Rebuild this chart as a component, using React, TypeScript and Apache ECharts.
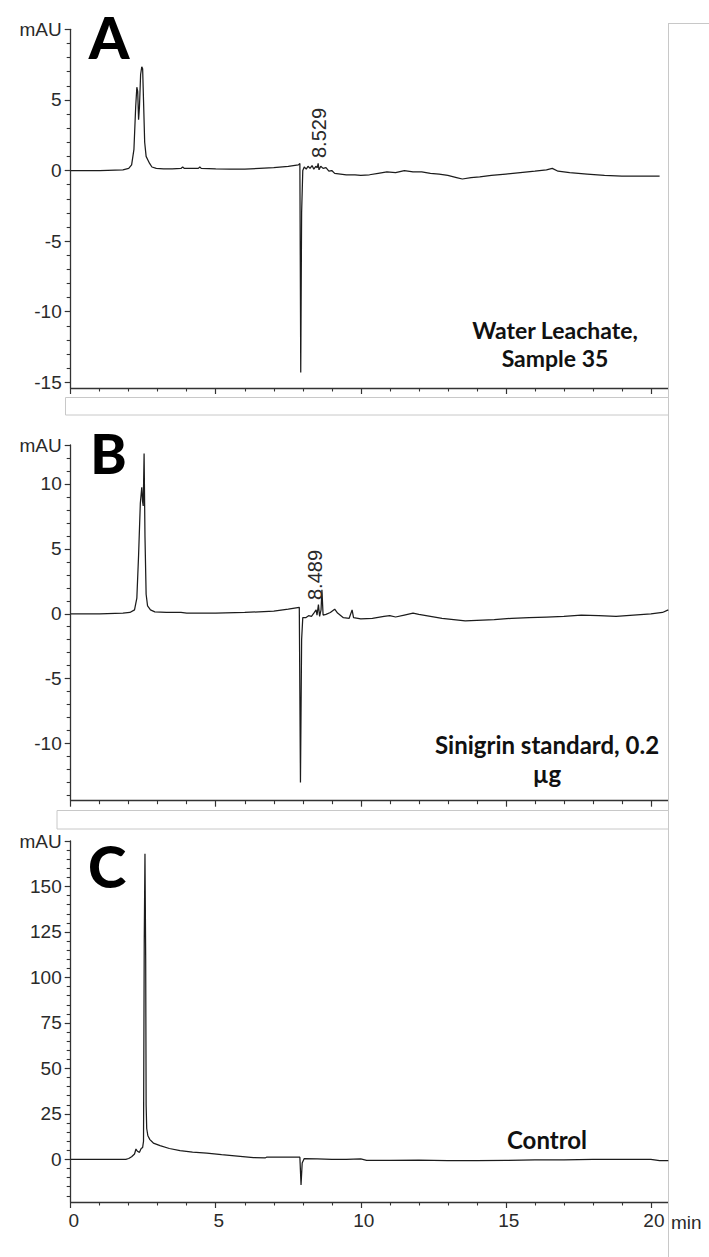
import React, { useEffect, useRef } from "react";
import * as echarts from "echarts";

// ---------- Data (retention time in min, signal in mAU) ----------
const timeA = [0, 1.0, 1.8, 2.0, 2.1, 2.18, 2.24, 2.28, 2.31, 2.34, 2.37, 2.41, 2.45, 2.48, 2.51, 2.55, 2.6, 2.66, 2.72, 2.8, 2.95, 3.2, 3.5, 3.8, 3.86, 3.92, 4.2, 4.4, 4.45, 4.5, 5.0, 5.5, 6.0, 6.5, 7.0, 7.5, 7.85, 7.9, 7.93, 7.96, 8.0, 8.05, 8.12, 8.18, 8.25, 8.32, 8.38, 8.45, 8.5, 8.53, 8.56, 8.62, 8.7, 8.8, 8.9, 9.0, 9.1, 9.3, 9.5, 9.8, 10.0, 10.3, 10.6, 10.9, 11.2, 11.5, 11.8, 12.1, 12.4, 12.7, 13.0, 13.3, 13.5, 13.8, 14.1, 14.5, 15.0, 15.5, 16.0, 16.4, 16.6, 16.8, 17.2, 17.8, 18.4, 19.0, 19.6, 20.3];
const signalA = [0.0, 0.0, 0.05, 0.15, 0.4, 1.5, 4.5, 5.9, 5.6, 3.6, 4.5, 6.8, 7.35, 7.2, 5.0, 2.0, 1.0, 0.75, 0.5, 0.25, 0.15, 0.12, 0.12, 0.15, 0.25, 0.15, 0.15, 0.15, 0.25, 0.15, 0.12, 0.1, 0.1, 0.15, 0.2, 0.3, 0.4, 0.5, -14.3, -3.0, 0.0, 0.25, 0.1, 0.3, 0.15, 0.35, 0.1, 0.3, 0.2, 0.5, 0.05, 0.3, 0.15, 0.2, -0.05, 0.0, -0.2, -0.25, -0.3, -0.3, -0.35, -0.3, -0.2, -0.1, -0.15, 0.0, -0.1, -0.1, -0.2, -0.25, -0.35, -0.5, -0.6, -0.5, -0.45, -0.35, -0.25, -0.15, -0.05, 0.05, 0.15, -0.05, -0.15, -0.25, -0.35, -0.4, -0.4, -0.4];

const timeB = [0, 1.0, 1.8, 2.04, 2.2, 2.28, 2.34, 2.4, 2.45, 2.48, 2.5, 2.53, 2.56, 2.6, 2.65, 2.75, 2.9, 3.3, 3.8, 4.0, 5.0, 6.0, 7.0, 7.5, 7.88, 7.92, 7.96, 8.0, 8.1, 8.2, 8.3, 8.4, 8.46, 8.49, 8.54, 8.58, 8.63, 8.66, 8.7, 8.8, 8.95, 9.1, 9.2, 9.4, 9.6, 9.7, 9.75, 10.0, 10.4, 10.8, 11.0, 11.2, 11.5, 11.8, 12.0, 12.4, 12.8, 13.2, 13.6, 14.0, 14.6, 15.2, 15.8, 16.4, 17.0, 17.6, 18.2, 18.8, 19.4, 20.0, 20.4, 20.6];
const signalB = [0.0, 0.0, 0.05, 0.1, 0.3, 1.2, 4.5, 8.5, 9.75, 8.6, 8.3, 12.35, 6.0, 1.5, 0.6, 0.3, 0.15, 0.1, 0.1, 0.05, 0.05, 0.1, 0.2, 0.35, 0.5, -13.0, -2.0, -0.3, -0.3, -0.15, -0.2, 0.1, 0.3, -0.1, 0.7, -0.2, 0.3, 1.85, -0.1, -0.05, 0.1, 0.35, 0.05, -0.3, -0.35, 0.3, -0.3, -0.4, -0.35, -0.2, -0.15, -0.25, -0.1, 0.05, -0.05, -0.2, -0.35, -0.45, -0.55, -0.5, -0.45, -0.35, -0.3, -0.25, -0.2, -0.1, -0.15, -0.2, -0.1, 0.0, 0.1, 0.3];

const timeC = [0, 1.9, 2.0, 2.1, 2.2, 2.25, 2.3, 2.37, 2.43, 2.48, 2.51, 2.535, 2.56, 2.585, 2.6, 2.62, 2.66, 2.73, 2.85, 3.08, 3.4, 3.77, 4.2, 4.69, 5.2, 5.84, 6.3, 6.7, 6.75, 7.5, 7.9, 7.94, 7.98, 8.05, 8.5, 9.0, 9.5, 10.0, 10.2, 11.0, 12.0, 13.0, 14.0, 15.0, 16.0, 17.0, 18.0, 19.0, 20.0, 20.3, 20.6];
const signalC = [0, 0, 0.5, 1.5, 3.0, 5.7, 4.5, 3.9, 6.0, 6.6, 10, 120, 168, 110, 30, 17, 13, 10.9, 9.0, 7.6, 6.0, 4.8, 4.0, 3.5, 2.6, 1.7, 1.0, 0.8, 1.2, 1.2, 1.2, -14, -2, 0.5, 0.3, 0, 0, 0.3, -0.5, -0.5, -0.4, -0.6, -0.7, -0.5, -0.3, -0.2, 0, 0, 0, -0.6, -0.6];

// ---------- Axis ticks ----------
const xMajorTicks = [0, 5, 10, 15, 20];
const xMinorTicks = [1, 2, 3, 4, 6, 7, 8, 9, 11, 12, 13, 14, 16, 17, 18, 19];
const yTicksA = [-15, -10, -5, 0, 5, 10];
const yMinorA = [-14, -13, -12, -11, -9, -8, -7, -6, -4, -3, -2, -1, 1, 2, 3, 4, 6, 7, 8, 9];
const yTicksB = [-10, -5, 0, 5, 10, 13];
const yMinorB = [-14, -13, -12, -11, -9, -8, -7, -6, -4, -3, -2, -1, 1, 2, 3, 4, 6, 7, 8, 9, 11, 12];
const yTicksC = [0, 25, 50, 75, 100, 125, 150, 175];
const yMinorC = [-20, -15, -10, -5, 5, 10, 15, 20, 30, 35, 40, 45, 55, 60, 65, 70, 80, 85, 90, 95, 105, 110, 115, 120, 130, 135, 140, 145, 155, 160, 165, 170];

const X_MAX = 20.6;
const Y_RANGES = [
  { min: -15.4, max: 10 },
  { min: -14.4, max: 13 },
  { min: -23.4, max: 175 },
];
const UNIT_LABEL = "mAU";
const panelLetters = ["A", "B", "C"];
const panelNotes = ["Water Leachate,\nSample 35", "Sinigrin standard, 0.2\nµg", "Control"];
const peakLabels = ["8.529", "8.489"];

const AXIS_COLOR = "#333";
const TEXT_COLOR = "#2a2a2a";
const LABEL_FONT = "Liberation Sans";
const NOTE_FONT = "Lato";

export default function App() {
  const ref = useRef<HTMLDivElement>(null);

  useEffect(() => {
    if (!ref.current) return;
    const chart = echarts.init(ref.current, undefined, { renderer: "svg" });

    const grids = [
      { left: 70.7, top: 29.3, width: 597.6, height: 358.7 },
      { left: 70.7, top: 445, width: 597.6, height: 355.7 },
      { left: 70.7, top: 841, width: 597.6, height: 361 },
    ];
    const yMajor = [yTicksA, yTicksB, yTicksC];
    const yMinor = [yMinorA, yMinorB, yMinorC];
    const data = [
      timeA.map((t, i) => [t, signalA[i]]),
      timeB.map((t, i) => [t, signalB[i]]),
      timeC.map((t, i) => [t, signalC[i]]),
    ];

    const xAxes: any[] = [];
    const yAxes: any[] = [];
    for (let g = 0; g < 3; g++) {
      xAxes.push({
        type: "value",
        gridIndex: g,
        min: 0,
        max: X_MAX,
        position: "bottom",
        axisLine: { show: true, onZero: false, lineStyle: { color: AXIS_COLOR, width: 1.3 } },
        axisTick: { show: true, length: 6, customValues: xMajorTicks, lineStyle: { color: AXIS_COLOR, width: 1.2 } },
        axisLabel: {
          show: g === 2,
          customValues: xMajorTicks,
          color: TEXT_COLOR,
          fontFamily: LABEL_FONT,
          fontSize: 19,
          margin: 9,
          padding: [0, 0, 0, 6],
        },
        splitLine: { show: false },
      });
    }
    for (let g = 0; g < 3; g++) {
      xAxes.push({
        type: "value",
        gridIndex: g,
        min: 0,
        max: X_MAX,
        position: "bottom",
        axisLine: { show: false, onZero: false },
        axisTick: { show: true, length: 3.5, customValues: xMinorTicks, lineStyle: { color: AXIS_COLOR, width: 1.1 } },
        axisLabel: { show: false },
        splitLine: { show: false },
      });
    }
    for (let g = 0; g < 3; g++) {
      const top = Y_RANGES[g].max;
      yAxes.push({
        type: "value",
        gridIndex: g,
        min: Y_RANGES[g].min,
        max: top,
        position: "left",
        axisLine: { show: true, onZero: false, lineStyle: { color: AXIS_COLOR, width: 1.3 } },
        axisTick: { show: true, length: 6, customValues: yMajor[g], lineStyle: { color: AXIS_COLOR, width: 1.2 } },
        axisLabel: {
          customValues: yMajor[g],
          color: TEXT_COLOR,
          fontFamily: LABEL_FONT,
          fontSize: 19,
          margin: 9,
          formatter: (v: number) => (v === top ? UNIT_LABEL : String(v)),
        },
        splitLine: { show: false },
      });
    }
    for (let g = 0; g < 3; g++) {
      yAxes.push({
        type: "value",
        gridIndex: g,
        min: Y_RANGES[g].min,
        max: Y_RANGES[g].max,
        position: "left",
        axisLine: { show: false, onZero: false },
        axisTick: { show: true, length: 4, customValues: yMinor[g], lineStyle: { color: AXIS_COLOR, width: 1.1 } },
        axisLabel: { show: false },
        splitLine: { show: false },
      });
    }

    const series = data.map((d, g) => ({
      type: "line",
      xAxisIndex: g,
      yAxisIndex: g,
      data: d,
      showSymbol: false,
      symbol: "none",
      lineStyle: { color: "#1c1c1c", width: 1.25 },
      z: 5,
    }));

    const gray = "#c8c8c8";
    const noteStyle = (text: string, size: number, lh: number) => ({
      text,
      fill: "#111",
      font: `bold ${size}px ${NOTE_FONT}`,
      lineHeight: lh,
      align: "center",
      verticalAlign: "middle",
    });
    const letterStyle = (text: string, size: number) => ({
      text,
      fill: "#000",
      font: `900 ${size}px ${NOTE_FONT}`,
      align: "center",
      verticalAlign: "middle",
    });

    const graphic: any[] = [
      // frame pieces
      { type: "line", shape: { x1: 668.5, y1: 23, x2: 668.5, y2: 1257 }, style: { stroke: gray, lineWidth: 1 }, z: 1 },
      { type: "line", shape: { x1: 668.5, y1: 23.5, x2: 709, y2: 23.5 }, style: { stroke: gray, lineWidth: 1 }, z: 1 },
      { type: "rect", shape: { x: 65.5, y: 397.5, width: 603, height: 17.5 }, style: { fill: "#fff", stroke: gray, lineWidth: 1 }, z: 1 },
      { type: "rect", shape: { x: 57, y: 810.5, width: 611.5, height: 18.5 }, style: { fill: "#fff", stroke: gray, lineWidth: 1 }, z: 1 },
      // panel letters
      { type: "text", x: 109, y: 36, style: letterStyle(panelLetters[0], 58), z: 10 },
      { type: "text", x: 108.5, y: 453, style: letterStyle(panelLetters[1], 55), z: 10 },
      { type: "text", x: 107, y: 865, style: letterStyle(panelLetters[2], 58), z: 10 },
      // notes
      { type: "text", x: 555, y: 344, style: noteStyle(panelNotes[0], 23, 28), z: 10 },
      { type: "text", x: 547, y: 759, style: noteStyle(panelNotes[1], 24, 29), z: 10 },
      { type: "text", x: 547, y: 1139, style: noteStyle(panelNotes[2], 24, 26), z: 10 },
      // peak labels (rotated)
      { type: "text", x: 319, y: 133, rotation: Math.PI / 2, style: { text: peakLabels[0], fill: TEXT_COLOR, font: `20px ${LABEL_FONT}`, align: "center", verticalAlign: "middle" }, z: 10 },
      { type: "text", x: 315, y: 575, rotation: Math.PI / 2, style: { text: peakLabels[1], fill: TEXT_COLOR, font: `20px ${LABEL_FONT}`, align: "center", verticalAlign: "middle" }, z: 10 },
      // x unit
      { type: "text", x: 671, y: 1222, style: { text: "min", fill: TEXT_COLOR, font: `19px ${LABEL_FONT}`, align: "left", verticalAlign: "middle" }, z: 10 },
    ];

    chart.setOption({
      animation: false,
      backgroundColor: "#fff",
      grid: grids,
      xAxis: xAxes,
      yAxis: yAxes,
      series,
      graphic,
    });

    return () => chart.dispose();
  }, []);

  return <div ref={ref} style={{ position: "absolute", left: 0, top: 0, width: 709, height: 1257 }} />;
}
